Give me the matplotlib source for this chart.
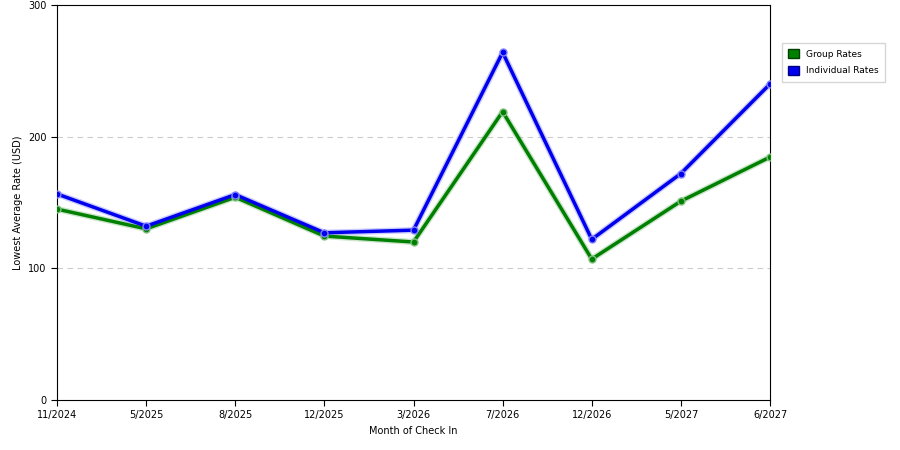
import matplotlib
matplotlib.use("Agg")
import matplotlib.pyplot as plt
from matplotlib.patches import Patch

months = ["11/2024","5/2025","8/2025","12/2025","3/2026","7/2026","12/2026","5/2027","6/2027"]
group_rates = [145, 130, 154, 124.5, 120, 219, 107, 151, 184.5]
individual_rates = [156.5, 132, 156, 127, 129, 264, 122, 172, 240]
yticks = [0, 100, 200, 300]

fig = plt.figure(figsize=(9, 4.5), dpi=100)
ax = fig.add_axes([57/900, 50/450, 713/900, 395/450])
x = list(range(len(months)))
for vals, col, glow in [(group_rates, "#008000", "#80c080"), (individual_rates, "#0000ee", "#8080ff")]:
    ax.plot(x, vals, color=glow, lw=4.5, alpha=0.4, zorder=2)
    ax.plot(x, vals, color=col, lw=2.5, zorder=3)
    ax.plot(x, vals, 'o', color=col, ms=5, mec=glow, mew=1, zorder=4)
ax.set_xlim(0, len(months)-1)
ax.set_ylim(0, 300)
ax.set_xticks(x)
ax.set_xticklabels(months, fontsize=7)
ax.set_yticks(yticks)
ax.set_yticklabels([str(v) for v in yticks], fontsize=7)
for v in [100, 200]:
    ax.axhline(v, color="#cccccc", ls=(0, (5, 4)), lw=0.8, zorder=1)
ax.set_xlabel("Month of Check In", fontsize=7)
ax.set_ylabel("Lowest Average Rate (USD)", fontsize=7)
ax.tick_params(length=4, width=0.8)
for s in ax.spines.values():
    s.set_linewidth(0.8)
handles = [Patch(facecolor="#008000", edgecolor="#004000", label="Group Rates"),
           Patch(facecolor="#0000ee", edgecolor="#000080", label="Individual Rates")]
fig.legend(handles=handles, loc="upper left", bbox_to_anchor=(777/900, 1-38/450),
           fontsize=6.5, frameon=True, fancybox=False, edgecolor="#cccccc",
           handlelength=1.2, handleheight=1.2, borderpad=0.7, labelspacing=0.8,
           handletextpad=0.8)
fig.savefig("out.png", dpi=100)
